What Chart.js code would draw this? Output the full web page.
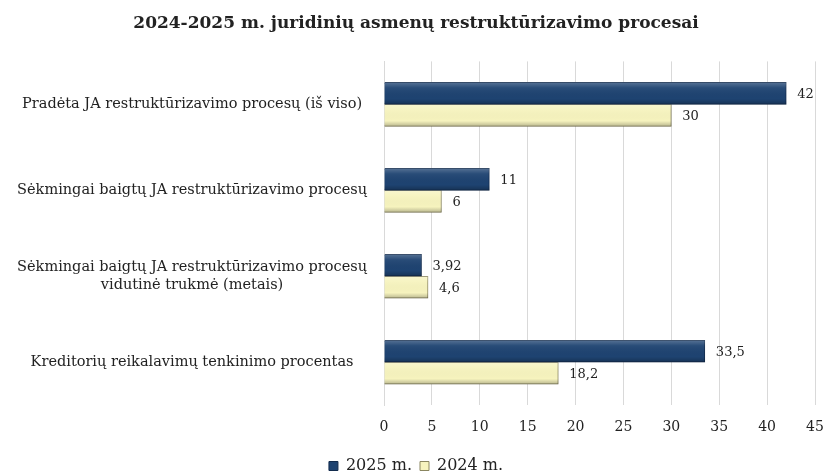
<!DOCTYPE html>
<html><head><meta charset="utf-8">
<script src="https://cdn.jsdelivr.net/npm/chart.js@4/dist/chart.umd.min.js"></script>
<style>html,body{margin:0;padding:0;background:#fff}#c{display:block}</style>
</head><body>
<canvas id="c" width="824" height="472"></canvas>
<script>
const categories = [
  "Pradėta JA restruktūrizavimo procesų (iš viso)",
  "Sėkmingai baigtų JA restruktūrizavimo procesų",
  ["Sėkmingai baigtų JA restruktūrizavimo procesų", "vidutinė trukmė (metais)"],
  "Kreditorių reikalavimų tenkinimo procentas"
];
const seriesNames = ["2025 m.", "2024 m."];
const values2025 = [42, 11, 3.92, 33.5];
const values2024 = [30, 6, 4.6, 18.2];
const xTicks = [0, 5, 10, 15, 20, 25, 30, 35, 40, 45];

const FONT = "'DejaVu Serif', 'Liberation Serif', serif";

const labelPlugin = {
  id: 'valLabels',
  afterDatasetsDraw(chart) {
    const ctx = chart.ctx;
    ctx.save();
    ctx.font = "13px " + FONT;
    ctx.fillStyle = '#222';
    ctx.textBaseline = 'middle';
    ctx.textAlign = 'left';
    chart.data.datasets.forEach((ds, di) => {
      chart.getDatasetMeta(di).data.forEach((bar, i) => {
        const s = String(ds.data[i]).replace('.', ',');
        ctx.fillText(s, bar.x + 11, bar.y + 1);
      });
    });
    ctx.restore();
  }
};

const bevelPlugin = {
  id: 'bevel',
  afterDatasetsDraw(chart) {
    const ctx = chart.ctx;
    ctx.save();
    chart.data.datasets.forEach((ds, di) => {
      chart.getDatasetMeta(di).data.forEach((bar) => {
        const h = bar.height, top = bar.y - h/2, left = bar.base, right = bar.x;
        const g = ctx.createLinearGradient(0, top, 0, top + h);
        g.addColorStop(0, 'rgba(255,255,255,0.25)');
        g.addColorStop(0.25, 'rgba(255,255,255,0.05)');
        g.addColorStop(0.75, 'rgba(0,0,0,0.0)');
        g.addColorStop(1, 'rgba(0,0,0,0.25)');
        ctx.fillStyle = g;
        ctx.fillRect(left, top, right - left, h);
      });
    });
    ctx.restore();
  }
};

new Chart(document.getElementById('c'), {
  type: 'bar',
  data: {
    labels: categories,
    datasets: [
      { label: seriesNames[0], data: values2025, backgroundColor: '#1E4371', borderColor: '#122B4D', borderWidth: 1, barThickness: 22 },
      { label: seriesNames[1], data: values2024, backgroundColor: '#F6F3BE', borderColor: '#8A8660', borderWidth: 1, barThickness: 22 }
    ]
  },
  options: {
    indexAxis: 'y',
    responsive: false,
    animation: false,
    layout: { padding: { left: 8, right: 0, top: 0, bottom: -12 } },
    scales: {
      x: {
        min: 0, max: 45,
        afterBuildTicks(scale) { scale.ticks = xTicks.map(v => ({ value: v })); },
        afterFit(scale) { scale.paddingRight = 9; },
        ticks: { font: { family: FONT, size: 14 }, color: '#222', padding: 14 },
        grid: { color: '#d9d9d9', drawTicks: false },
        border: { display: false }
      },
      y: {
        ticks: { font: { family: FONT, size: 14.5 }, color: '#222', crossAlign: 'center', padding: 9 },
        grid: { display: false },
        border: { display: true, color: '#d9d9d9' },
        afterFit(scale) { scale.width = 376; }
      }
    },
    plugins: {
      title: {
        display: true,
        text: '2024-2025 m. juridinių asmenų restruktūrizavimo procesai',
        font: { family: FONT, size: 17, weight: 'bold' },
        color: '#222',
        padding: { top: 13, bottom: 28 }
      },
      legend: {
        position: 'bottom',
        labels: { font: { family: FONT, size: 16 }, color: '#222', boxWidth: 9, boxHeight: 9, padding: 8 }
      },
      tooltip: { enabled: false }
    }
  },
  plugins: [bevelPlugin, labelPlugin]
});
</script>
</body></html>
